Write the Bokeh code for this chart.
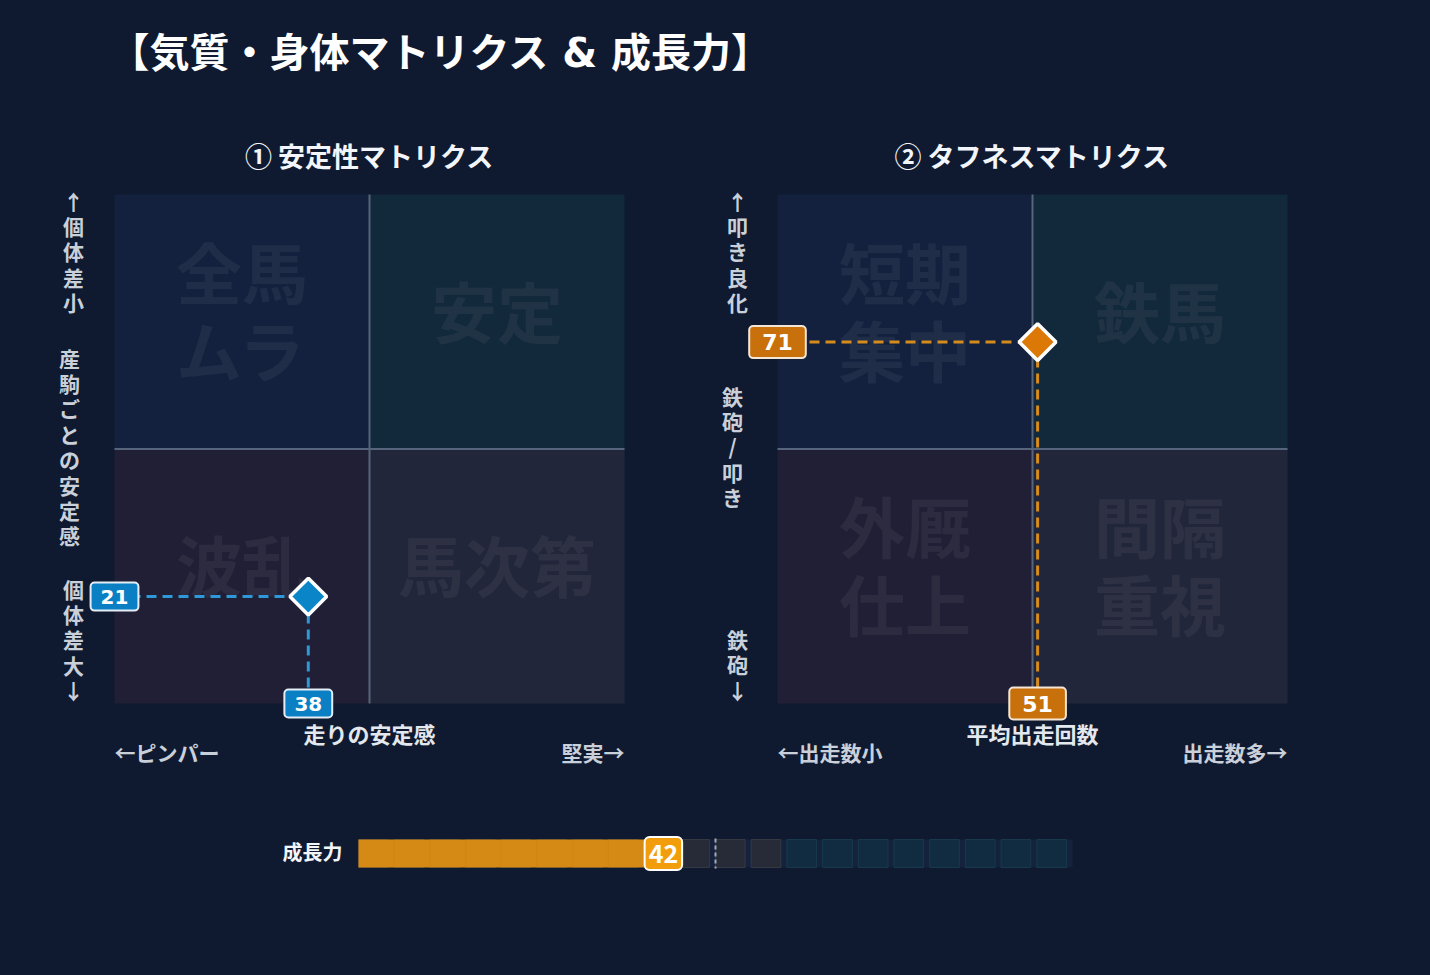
import numpy as np
from bokeh.plotting import figure
from bokeh.models import Range1d, Label, GlobalInlineStyleSheet
from bokeh.core.properties import value
from bokeh.embed import file_html
from bokeh.resources import INLINE

# ---------------- data ----------------
title_text = "【気質・身体マトリクス & 成長力】"

m1_title = "① 安定性マトリクス"
m1_quadrants = ["全馬\nムラ", "安定", "波乱", "馬次第"]          # TL, TR, BL, BR
m1_x_title = "走りの安定感"
m1_x_low = "←ピンパー"
m1_x_high = "堅実→"
m1_y_high = "↑個体差小"
m1_y_title = "産駒ごとの安定感"
m1_y_low = "個体差大↓"
m1_x_value = 38
m1_y_value = 21

m2_title = "② タフネスマトリクス"
m2_quadrants = ["短期\n集中", "鉄馬", "外厩\n仕上", "間隔\n重視"]
m2_x_title = "平均出走回数"
m2_x_low = "←出走数小"
m2_x_high = "出走数多→"
m2_y_high = "↑叩き良化"
m2_y_title = "鉄砲/叩き"
m2_y_low = "鉄砲↓"
m2_x_value = 51
m2_y_value = 71

growth_label = "成長力"
growth_value = 42
growth_mid = 50
growth_cell_starts = [0, 5, 10, 15, 20, 25, 30, 35, 40, 45,
                      50, 55, 60, 65, 70, 75, 80, 85, 90, 95]
growth_cell_zone = ["near"] * 12 + ["far"] * 8

# quadrant geometry (data units 0..100)
quad_left = [0, 50, 0, 50]
quad_right = [50, 100, 50, 100]
quad_bottom = [50, 50, 0, 0]
quad_top = [100, 100, 50, 50]
quad_cx = [25, 75, 25, 75]
quad_cy = [75, 75, 25, 25]

# ---------------- styling / layout ----------------
BG = "#0f1a30"
QUAD_COLORS = ["#13213f", "#12283b", "#211f35", "#22263a"]
DIVIDER = "#56657b"
JP = "Noto Sans CJK JP"
MIX = "DejaVu Sans, Noto Sans CJK JP"
NUM = "DejaVu Sans"
LIGHT = "#c9d0da"
WHITE = "#f2f5f9"

PAGE_W, PAGE_H = 1430, 975
FW, FH = 1414, 959
ORIGIN = 0                      # page position of the figure's top-left corner
LINE_K = 1.448                  # Noto Sans CJK ascent+descent per em

M1_FRAME = (114, 624, 194, 703)   # page px: x0, x1, ytop, ybottom
M2_FRAME = (777, 1287, 194, 703)
G_FRAME = (358, 1072, 839, 867)


def mapped_range(d0, d1, p0, p1, pa, pb):
    """Range whose data d0 sits at page pixel p0 and d1 at p1, spanning page pa..pb."""
    k = (d1 - d0) / (p1 - p0)
    return Range1d(start=d0 + (pa - p0) * k, end=d0 + (pb - p0) * k)


XL, XR = ORIGIN, ORIGIN + FW
YT, YB = ORIGIN, ORIGIN + FH

p = figure(width=FW, height=FH, output_backend="svg", toolbar_location=None,
           x_axis_type=None, y_axis_type=None,
           x_range=Range1d(XL, XR), y_range=Range1d(YB, YT),
           background_fill_color=BG, border_fill_color=BG,
           min_border=0, outline_line_color=None)
p.min_border_left = p.min_border_right = p.min_border_top = p.min_border_bottom = 0
p.stylesheets = [GlobalInlineStyleSheet(css=f"html, body {{ background: {BG}; }}")]

p.extra_x_ranges = {
    "m1x": mapped_range(0, 100, M1_FRAME[0], M1_FRAME[1], XL, XR),
    "m2x": mapped_range(0, 100, M2_FRAME[0], M2_FRAME[1], XL, XR),
    "gx": mapped_range(0, 100, G_FRAME[0], G_FRAME[1], XL, XR),
}
p.extra_y_ranges = {
    "m1y": mapped_range(0, 100, M1_FRAME[3], M1_FRAME[2], YB, YT),
    "m2y": mapped_range(0, 100, M2_FRAME[3], M2_FRAME[2], YB, YT),
}

# ---------------- title ----------------
p.text(x=[109], y=[52], text=[title_text], text_font=value(MIX), text_font_style="bold",
       text_font_size="40px", text_color="#ffffff", text_align="left", text_baseline="middle")


def draw_matrix(xr, yr, title, quads, x_title, x_low, x_high,
                y_high, y_title, y_low, xv, yv, vert_x, vert_mid_x, vert_y, accent):
    kw = dict(x_range_name=xr, y_range_name=yr)
    p.quad(left=quad_left, right=quad_right, bottom=quad_bottom, top=quad_top,
           fill_color=QUAD_COLORS, line_color=None, **kw)
    p.segment(x0=[50, 0], y0=[0, 50], x1=[50, 100], y1=[100, 50],
              line_color=DIVIDER, line_width=2, **kw)
    p.text(x=quad_cx, y=quad_cy, text=quads, text_font=value(JP), text_font_style="bold",
           text_font_size="66px", text_color="#ffffff", text_alpha=0.055,
           text_align="center", text_baseline="middle", y_offset=-13,
           text_line_height=78 / (66 * LINE_K), **kw)
    # page-positioned texts anchored on matrix x scale
    p.text(x=[50], y=[155], text=[title], text_font=value(JP), text_font_style="bold",
           text_font_size="27px", text_color=WHITE, text_align="center",
           text_baseline="middle", x_range_name=xr)
    p.text(x=[50], y=[732], text=[x_title], text_font=value(JP), text_font_style="bold",
           text_font_size="22px", text_color="#e3e8ef", text_align="center",
           text_baseline="middle", x_range_name=xr)
    p.text(x=[0], y=[751], text=[x_low], text_font=value(JP), text_font_style="bold",
           text_font_size="21px", text_color=LIGHT, text_align="left",
           text_baseline="middle", x_range_name=xr)
    p.text(x=[100], y=[751], text=[x_high], text_font=value(JP), text_font_style="bold",
           text_font_size="21px", text_color=LIGHT, text_align="right",
           text_baseline="middle", x_range_name=xr)
    # vertical stacked labels
    vt = ["\n".join(list(s)) for s in (y_high, y_title, y_low)]
    p.text(x=[vert_x, vert_mid_x, vert_x], y=vert_y, text=vt, text_font=value(JP),
           text_font_style="bold", text_font_size="21px", text_color=LIGHT,
           text_align="center", text_baseline="middle",
           text_line_height=25.7 / (21 * LINE_K))
    # guide lines and marker
    line_col, fill_col, box_col, box_border, fsize, pad = accent
    p.line(x=[0, xv], y=[yv, yv], line_color=line_col, line_width=3,
           line_dash="10 6", **kw)
    p.line(x=[xv, xv], y=[0, yv], line_color=line_col, line_width=3,
           line_dash="10 6", **kw)
    p.scatter(x=[xv], y=[yv], marker="square", size=26, angle=np.pi / 4,
              fill_color=fill_col, line_color="white", line_width=3.5, **kw)
    for lx, ly, t in ((0, yv, yv), (xv, 0, xv)):
        p.add_layout(Label(x=lx, y=ly, text=str(t), x_range_name=xr, y_range_name=yr,
                           text_font=NUM, text_font_style="bold", text_font_size=fsize,
                           text_color="white", text_align="center", text_baseline="middle",
                           background_fill_color=box_col, border_line_color=box_border,
                           border_line_width=2, border_radius=4, padding=pad))


draw_matrix("m1x", "m1y", m1_title, m1_quadrants, m1_x_title, m1_x_low, m1_x_high,
            m1_y_high, m1_y_title, m1_y_low, m1_x_value, m1_y_value,
            73, 69, [251, 446, 639],
            ("#2e98d8", "#0a86c8", "#0a7fc4", "#e4edf6", "20px", (10, 7)))
draw_matrix("m2x", "m2y", m2_title, m2_quadrants, m2_x_title, m2_x_low, m2_x_high,
            m2_y_high, m2_y_title, m2_y_low, m2_x_value, m2_y_value,
            737, 732, [251, 446, 664],
            ("#d68b1c", "#dc7806", "#c8700c", "#f3e6d4", "22px", (13, 8)))

# ---------------- growth bar ----------------
gy0, gy1 = G_FRAME[2], G_FRAME[3]
p.quad(left=[0], right=[100], top=[gy0], bottom=[gy1], fill_color="#15223d",
       line_color=None, x_range_name="gx")
cs = np.array(growth_cell_starts, dtype=float)
cell_fill = ["#272b37" if z == "near" else "#112c40" for z in growth_cell_zone]
cell_line = ["#363941" if z == "near" else "#18394b" for z in growth_cell_zone]
p.quad(left=cs, right=cs + 4.15, top=[gy0] * len(cs), bottom=[gy1] * len(cs),
       fill_color=cell_fill, line_color=cell_line, line_width=1, x_range_name="gx")
p.quad(left=[0], right=[growth_value], top=[gy0], bottom=[gy1], fill_color="#d58a15",
       line_color=None, x_range_name="gx")
inner = cs[(cs > 0) & (cs < growth_value)]
p.segment(x0=inner, x1=inner, y0=[gy0] * len(inner), y1=[gy1] * len(inner),
          line_color="#c07a10", line_alpha=0.25, line_width=1, x_range_name="gx")
p.segment(x0=[growth_mid], x1=[growth_mid], y0=[gy0 - 1], y1=[gy1 + 1],
          line_color="#a3a9b3", line_width=2, line_dash="4 3", x_range_name="gx")
p.text(x=[342], y=[851], text=[growth_label], text_font=value(JP), text_font_style="bold",
       text_font_size="20px", text_color=WHITE, text_align="right", text_baseline="middle")
p.add_layout(Label(x=growth_value, y=(gy0 + gy1) / 2, x_range_name="gx", x_offset=5,
                   text=str(growth_value), text_font=JP, text_font_style="bold",
                   text_font_size="25px", text_color="white", text_align="center",
                   text_baseline="middle", background_fill_color="#f29e0c",
                   border_line_color="white", border_line_width=2, border_radius=5,
                   padding=(4, 7)))

open("out.html", "w").write(file_html(p, INLINE))
